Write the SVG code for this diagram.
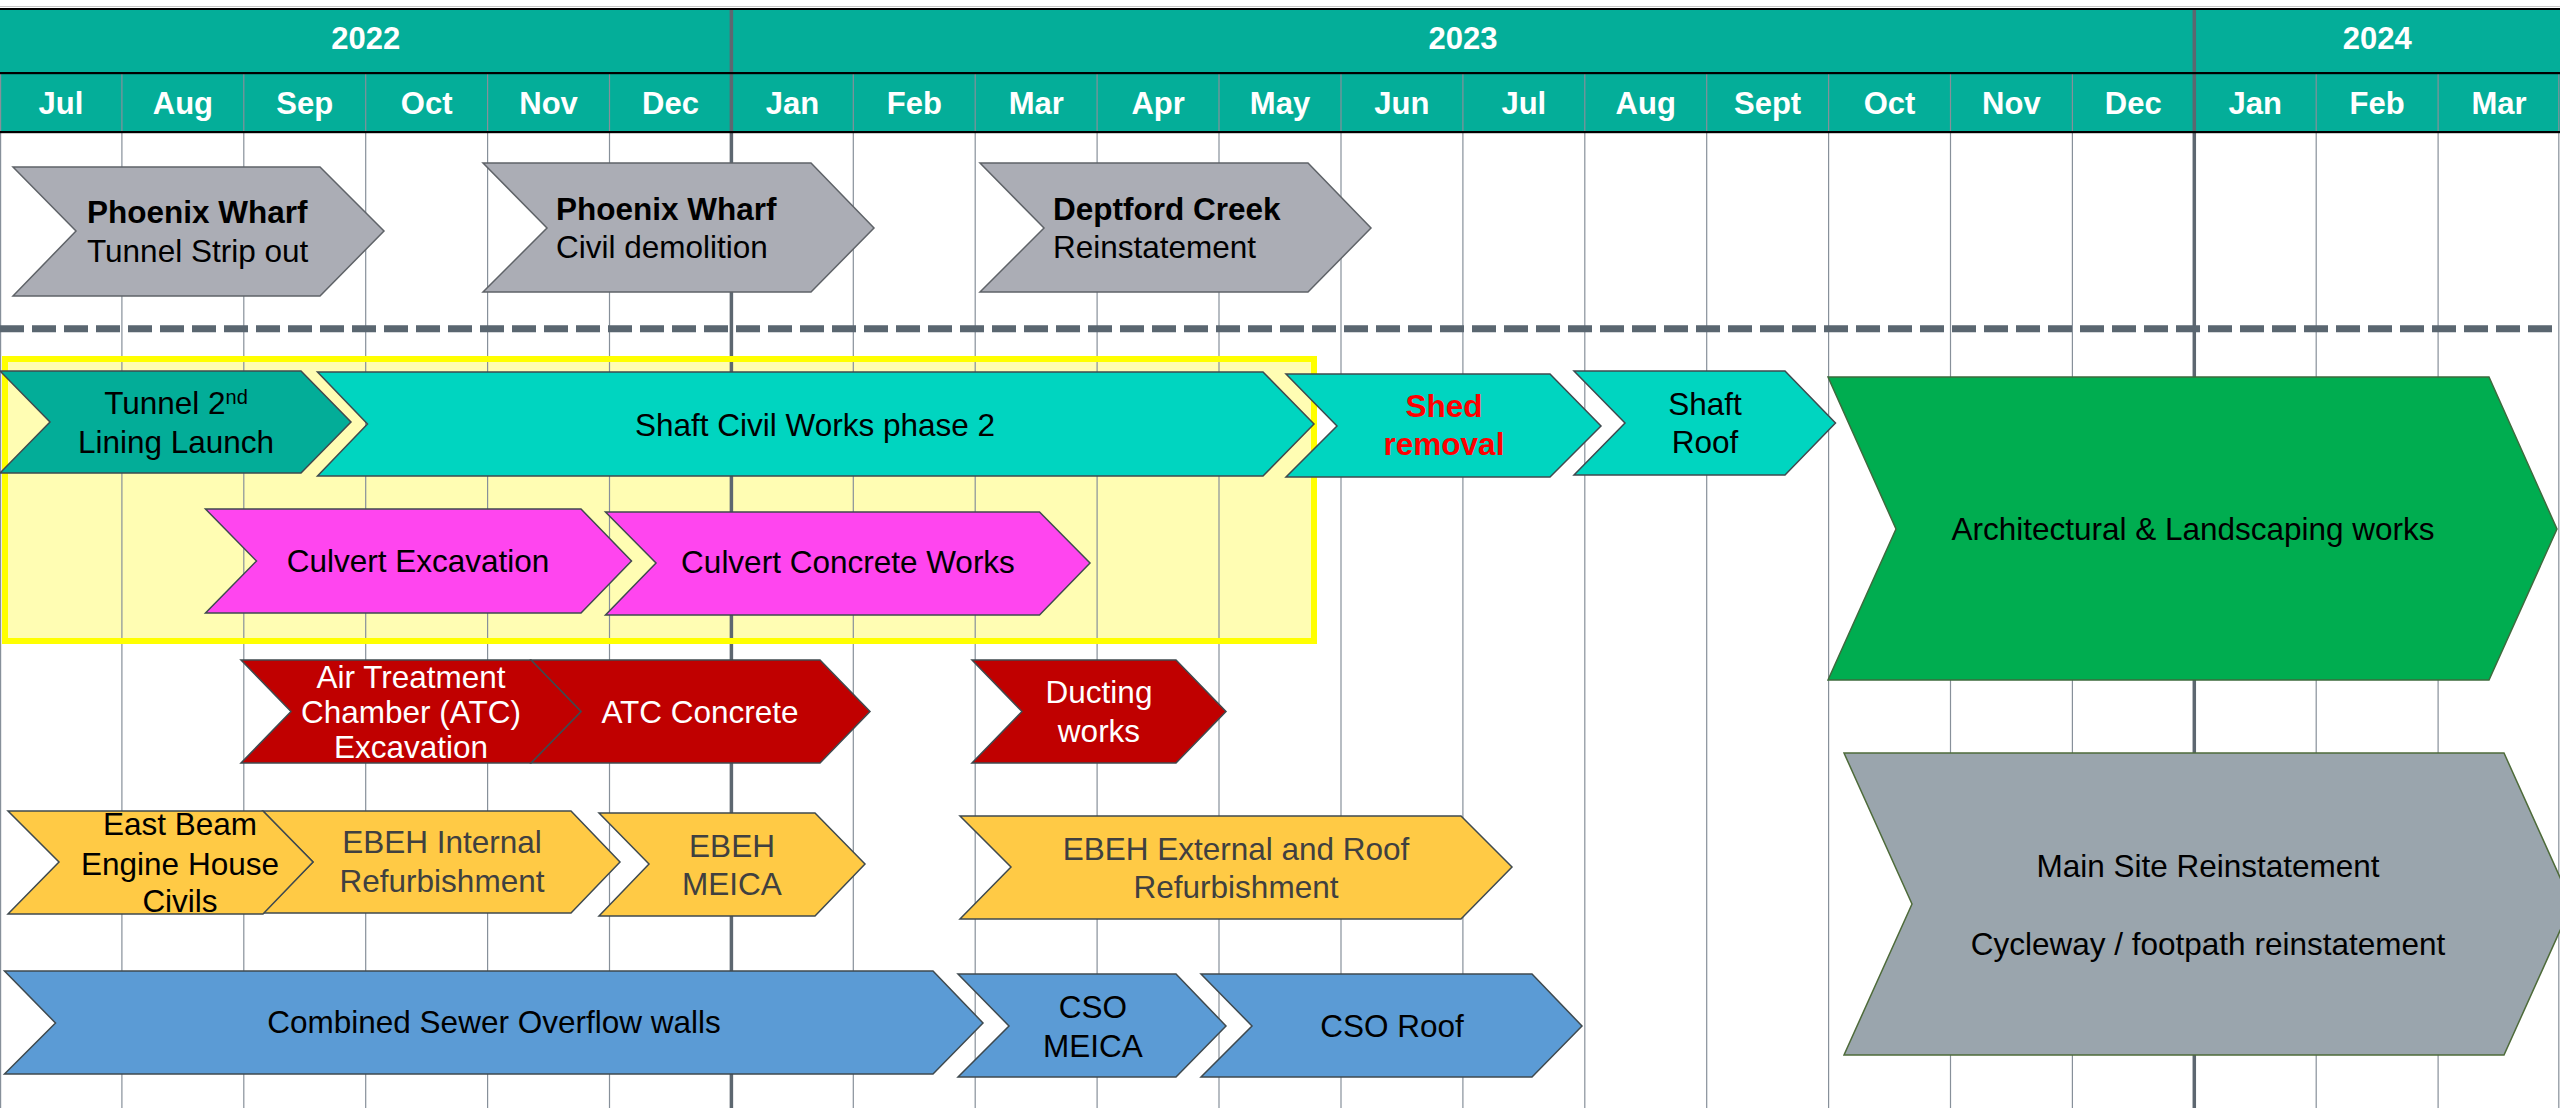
<svg xmlns="http://www.w3.org/2000/svg" width="2560" height="1108" viewBox="0 0 2560 1108">
<style>
text{font-family:"Liberation Sans",Arial,sans-serif;font-size:31.5px;fill:#000}
.hdr{font-weight:bold;fill:#fff;font-size:31px;text-anchor:middle}
.c{text-anchor:middle}
.b{font-weight:bold}
.w{fill:#fff}
.dg{fill:#404040}
.red{fill:#ff0000;font-weight:bold}
.ch{stroke:#3f4a4f;stroke-width:1.5}
.gray{fill:#abadb5;stroke:#5f6368;stroke-width:1.5}
.teal{fill:#03ad98}
.turq{fill:#00d5c0}
.green{fill:#00ad50;stroke:#3d6b3d;stroke-width:1.5}
.mag{fill:#ff45ef}
.rd{fill:#c00000}
.yel{fill:#ffca45}
.blue{fill:#5b9bd5}
.msr{fill:#9aa5ad;stroke:#4e6b3a;stroke-width:1.5}
.mline{stroke:#87909a;stroke-width:1.2}
.yline{stroke:#5d6770;stroke-width:3.5}
</style>
<rect x="0" y="0" width="2560" height="1108" fill="#fff"/>
<!-- header -->
<g id="header">
<line x1="0" y1="6.5" x2="2560" y2="6.5" stroke="#c8c8c8" stroke-width="1"/>
<rect x="0" y="8" width="2560" height="125" fill="#04ae99"/>
</g>
<!-- yellow highlight fill -->
<rect x="5" y="359" width="1309" height="282" fill="#fffdb3"/>
<!-- grid -->
<g id="grid">
<line class="mline" x1="0.6" y1="74" x2="0.6" y2="1108"/>
<line class="mline" x1="121.9" y1="74" x2="121.9" y2="1108"/>
<line class="mline" x1="243.8" y1="74" x2="243.8" y2="1108"/>
<line class="mline" x1="365.7" y1="74" x2="365.7" y2="1108"/>
<line class="mline" x1="487.6" y1="74" x2="487.6" y2="1108"/>
<line class="mline" x1="609.5" y1="74" x2="609.5" y2="1108"/>
<line class="mline" x1="853.3" y1="74" x2="853.3" y2="1108"/>
<line class="mline" x1="975.2" y1="74" x2="975.2" y2="1108"/>
<line class="mline" x1="1097.1" y1="74" x2="1097.1" y2="1108"/>
<line class="mline" x1="1219.0" y1="74" x2="1219.0" y2="1108"/>
<line class="mline" x1="1341.0" y1="74" x2="1341.0" y2="1108"/>
<line class="mline" x1="1462.9" y1="74" x2="1462.9" y2="1108"/>
<line class="mline" x1="1584.8" y1="74" x2="1584.8" y2="1108"/>
<line class="mline" x1="1706.7" y1="74" x2="1706.7" y2="1108"/>
<line class="mline" x1="1828.6" y1="74" x2="1828.6" y2="1108"/>
<line class="mline" x1="1950.5" y1="74" x2="1950.5" y2="1108"/>
<line class="mline" x1="2072.4" y1="74" x2="2072.4" y2="1108"/>
<line class="mline" x1="2316.2" y1="74" x2="2316.2" y2="1108"/>
<line class="mline" x1="2438.1" y1="74" x2="2438.1" y2="1108"/>
<line class="mline" x1="2558.8" y1="74" x2="2558.8" y2="1108"/>
<line class="yline" x1="731.4" y1="8" x2="731.4" y2="1108"/>
<line class="yline" x1="2194.3" y1="8" x2="2194.3" y2="1108"/>
</g>
<g id="header-lines">
<rect x="0" y="8" width="2560" height="2" fill="#000"/>
<rect x="0" y="72" width="2560" height="2.2" fill="#000"/>
<rect x="0" y="131" width="2560" height="2.2" fill="#000"/>
<text class="hdr" x="365.7" y="49">2022</text>
<text class="hdr" x="1462.9" y="49">2023</text>
<text class="hdr" x="2377.2" y="49">2024</text>
<text class="hdr" x="61" y="114">Jul</text>
<text class="hdr" x="182.9" y="114">Aug</text>
<text class="hdr" x="304.8" y="114">Sep</text>
<text class="hdr" x="426.7" y="114">Oct</text>
<text class="hdr" x="548.6" y="114">Nov</text>
<text class="hdr" x="670.5" y="114">Dec</text>
<text class="hdr" x="792.4" y="114">Jan</text>
<text class="hdr" x="914.3" y="114">Feb</text>
<text class="hdr" x="1036.2" y="114">Mar</text>
<text class="hdr" x="1158.1" y="114">Apr</text>
<text class="hdr" x="1280.0" y="114">May</text>
<text class="hdr" x="1401.9" y="114">Jun</text>
<text class="hdr" x="1523.8" y="114">Jul</text>
<text class="hdr" x="1645.7" y="114">Aug</text>
<text class="hdr" x="1767.6" y="114">Sept</text>
<text class="hdr" x="1889.5" y="114">Oct</text>
<text class="hdr" x="2011.4" y="114">Nov</text>
<text class="hdr" x="2133.3" y="114">Dec</text>
<text class="hdr" x="2255.2" y="114">Jan</text>
<text class="hdr" x="2377.1" y="114">Feb</text>
<text class="hdr" x="2499.0" y="114">Mar</text>
</g>
<!-- yellow border and dashed separator -->
<rect x="5" y="359" width="1309" height="282" fill="none" stroke="#ffff00" stroke-width="6"/>
<line x1="0" y1="328.7" x2="2560" y2="328.7" stroke="#5a6670" stroke-width="7" stroke-dasharray="24 8"/>

<g id="phoenix-strip">
<polygon class="gray" points="13,167 320,167 384,231 320,296 13,296 76,231"/>
<text class="b" x="87" y="222.7">Phoenix Wharf</text>
<text x="87" y="262">Tunnel Strip out</text>
</g>
<g id="phoenix-demolition">
<polygon class="gray" points="483,163 811,163 874,228 811,292 483,292 547,228"/>
<text class="b" x="556" y="220">Phoenix Wharf</text>
<text x="556" y="258">Civil demolition</text>
</g>
<g id="deptford">
<polygon class="gray" points="980,163 1308,163 1371,228 1308,292 980,292 1044,228"/>
<text class="b" x="1053" y="220">Deptford Creek</text>
<text x="1053" y="258">Reinstatement</text>
</g>

<g id="tunnel-lining">
<polygon class="ch teal" points="0,371 301,371 351,422 301,473 0,473 50,422"/>
<text class="c" x="176" y="414">Tunnel 2<tspan font-size="20" dy="-10">nd</tspan></text>
<text class="c" x="176" y="453">Lining Launch</text>
</g>
<g id="shaft-civil">
<polygon class="ch turq" points="317.5,372 1263,372 1314,424 1263,476 317.5,476 367.5,424"/>
<text class="c" x="815" y="436">Shaft Civil Works phase 2</text>
</g>
<g id="shed-removal">
<polygon class="ch turq" points="1286,374 1550,374 1601,426 1550,477 1286,477 1337,426"/>
<text class="c red" x="1444" y="417">Shed</text>
<text class="c red" x="1444" y="455">removal</text>
</g>
<g id="shaft-roof">
<polygon class="ch turq" points="1574,371 1785,371 1835.5,423 1785,475 1574,475 1625,423"/>
<text class="c" x="1705" y="415">Shaft</text>
<text class="c" x="1705" y="453">Roof</text>
</g>
<g id="architectural">
<polygon class="green" points="1828,377 2489,377 2557,529 2489,680 1828,680 1896,529"/>
<text class="c" x="2193" y="540">Architectural &amp; Landscaping works</text>
</g>
<g id="culvert-excavation">
<polygon class="ch mag" points="205.5,509 581,509 631.5,561 581,613 205.5,613 256.5,561"/>
<text class="c" x="418" y="572">Culvert Excavation</text>
</g>
<g id="culvert-concrete">
<polygon class="ch mag" points="605.5,512 1039.5,512 1090,563 1039.5,615 605.5,615 656,563"/>
<text class="c" x="848" y="573">Culvert Concrete Works</text>
</g>

<g id="atc-concrete">
<polygon class="ch rd" points="531,660 820,660 870,711.5 820,763 531,763 581,711.5"/>
<text class="c w" x="700" y="723">ATC Concrete</text>
</g>
<g id="atc-excavation">
<polygon class="ch rd" points="241,660 531,660 581,711.5 531,763 241,763 291,711.5"/>
<text class="c w" x="411" y="688" font-size="29.5">Air Treatment</text>
<text class="c w" x="411" y="723" font-size="29.5">Chamber (ATC)</text>
<text class="c w" x="411" y="758" font-size="29.5">Excavation</text>
</g>
<g id="ducting">
<polygon class="ch rd" points="972,660 1176,660 1226,711.5 1176,763 972,763 1022,711.5"/>
<text class="c w" x="1099" y="703">Ducting</text>
<text class="c w" x="1099" y="742">works</text>
</g>

<g id="ebeh-internal">
<polygon class="ch yel" points="263,811 571,811 620,862 571,913 263,913 313,862"/>
<text class="c dg" x="442" y="853">EBEH Internal</text>
<text class="c dg" x="442" y="892">Refurbishment</text>
</g>
<g id="east-beam">
<polygon class="ch yel" points="8,811 263,811 313,862 263,914 8,914 59,862"/>
<text class="c" x="180" y="835">East Beam</text>
<text class="c" x="180" y="875">Engine House</text>
<text class="c" x="180" y="912">Civils</text>
</g>
<g id="ebeh-meica">
<polygon class="ch yel" points="599,813 815,813 865,864 815,916 599,916 649,864"/>
<text class="c dg" x="732" y="857">EBEH</text>
<text class="c dg" x="732" y="895">MEICA</text>
</g>
<g id="ebeh-external">
<polygon class="ch yel" points="960,816 1461,816 1512,867 1461,919 960,919 1011,867"/>
<text class="c dg" x="1236" y="860">EBEH External and Roof</text>
<text class="c dg" x="1236" y="898">Refurbishment</text>
</g>

<g id="cso-walls">
<polygon class="ch blue" points="4.5,971 933,971 983,1023 933,1074 4.5,1074 55.5,1023"/>
<text class="c" x="494" y="1033">Combined Sewer Overflow walls</text>
</g>
<g id="cso-meica">
<polygon class="ch blue" points="958,974 1176,974 1226,1026 1176,1077 958,1077 1009,1026"/>
<text class="c" x="1093" y="1018">CSO</text>
<text class="c" x="1093" y="1057">MEICA</text>
</g>
<g id="cso-roof">
<polygon class="ch blue" points="1201,974 1532,974 1582,1026 1532,1077 1201,1077 1252,1026"/>
<text class="c" x="1392" y="1037">CSO Roof</text>
</g>

<g id="main-site">
<polygon class="msr" points="1844,753 2504,753 2572,904 2504,1055 1844,1055 1912,904"/>
<text class="c" x="2208" y="877">Main Site Reinstatement</text>
<text class="c" x="2208" y="955">Cycleway / footpath reinstatement</text>
</g>
</svg>
